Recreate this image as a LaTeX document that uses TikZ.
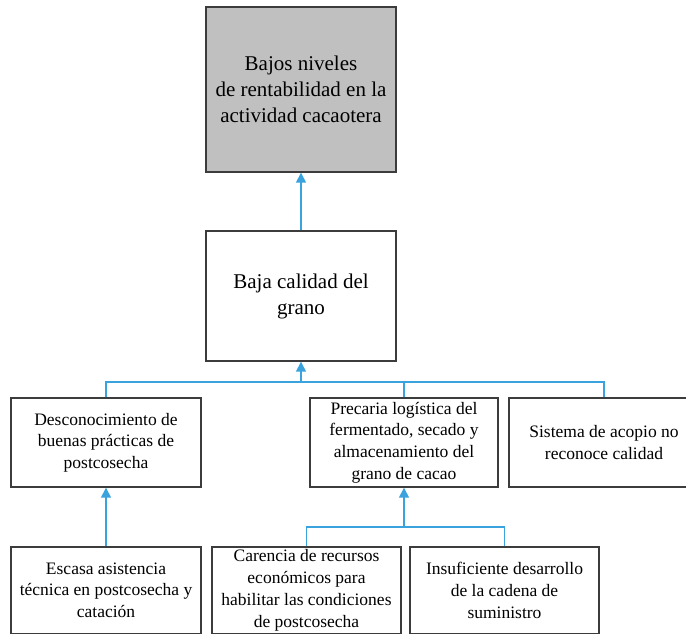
\documentclass[tikz,border=0pt]{standalone}
\usepackage{fontspec}
\setmainfont{Liberation Serif}
\usetikzlibrary{arrows.meta}
\definecolor{linkblue}{HTML}{3AA2DC}
\definecolor{boxgray}{HTML}{C0C0C0}
\definecolor{edge}{HTML}{3C3C3C}
\tikzset{
  box/.style={draw=edge, line width=1.4pt, rectangle, inner sep=0pt, align=center, text=black},
  bigtext/.style={font=\fontsize{21}{26}\selectfont},
  smalltext/.style={font=\fontsize{17.5}{21.7}\selectfont},
  link/.style={draw=linkblue, line width=1.5pt},
  uparrow/.style={link, -{Triangle[width=10pt,length=10pt]}}
}
\begin{document}
\begin{tikzpicture}[x=1pt, y=-1pt]
\useasboundingbox (0,0) rectangle (686,635);
\node[box, bigtext, fill=boxgray, minimum width=190pt, minimum height=165pt] (top) at (301,89.5) {Bajos niveles\\de rentabilidad en la\\actividad cacaotera};
\node[box, bigtext, minimum width=190pt, minimum height=130pt] (mid) at (301,296) {Baja calidad del\\grano};
\node[box, smalltext, minimum width=190pt, minimum height=89pt] (L1) at (106,442.5) {Desconocimiento de\\buenas prácticas de\\postcosecha};
\node[box, smalltext, minimum width=188pt, minimum height=89pt] (M1) at (404,442.5) {Precaria logística del\\fermentado, secado y\\almacenamiento del\\grano de cacao};
\node[box, smalltext, minimum width=190pt, minimum height=89pt] (R1) at (604,442.5) {Sistema de acopio no\\reconoce calidad};
\node[box, smalltext, minimum width=190pt, minimum height=86.5pt] (L2) at (106,590.25) {Escasa asistencia\\técnica en postcosecha y\\catación};
\node[box, smalltext, minimum width=189pt, minimum height=86.5pt] (M2a) at (306.5,590.25) {Carencia de recursos\\económicos para\\habilitar las condiciones\\de postcosecha};
\node[box, smalltext, minimum width=189pt, minimum height=86.5pt] (M2b) at (504.5,590.25) {Insuficiente desarrollo\\de la cadena de\\suministro};
\coordinate (b1) at (301,382);
\coordinate (b2) at (404,527);
\draw[uparrow] (mid.north) -- (top.south);
\draw[link] (L1.north) |- (b1) -| (R1.north);
\draw[link] (M1.north) -- (M1.north |- b1);
\draw[uparrow] (b1) -- (mid.south);
\draw[uparrow] (L2.north) -- (L1.south);
\draw[link] (M2a.north) |- (b2) -| (M2b.north);
\draw[uparrow] (b2) -- (M1.south);
\end{tikzpicture}
\end{document}
